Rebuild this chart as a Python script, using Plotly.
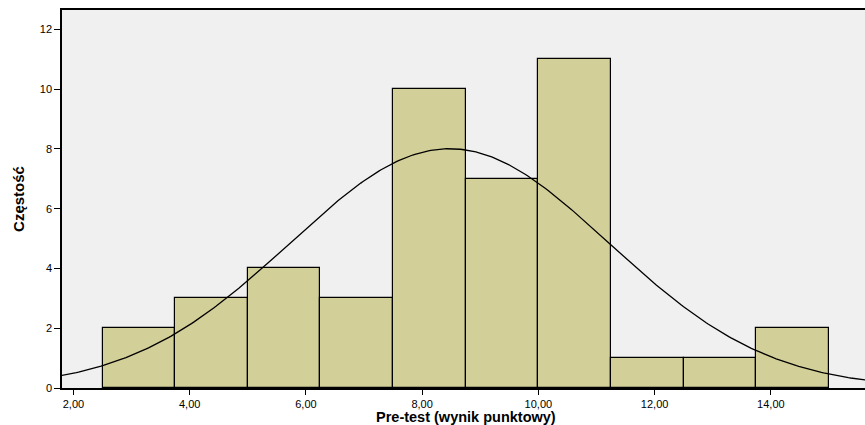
import numpy as np
import plotly.graph_objects as go

bin_starts = [2.5, 3.75, 5.0, 6.25, 7.5, 8.75, 10.0, 11.25, 12.5, 13.75]
bin_width = 1.25
counts = [2, 3, 4, 3, 10, 7, 11, 1, 1, 2]
mean_val = 8.47
sd_val = 2.74
x_ticks = [2, 4, 6, 8, 10, 12, 14]
x_tick_labels = ["2,00", "4,00", "6,00", "8,00", "10,00", "12,00", "14,00"]
y_ticks = [0, 2, 4, 6, 8, 10, 12]

n_total = sum(counts)
centers = [s + bin_width / 2 for s in bin_starts]
xc = np.linspace(1.0, 16.5, 400)
yc = n_total * bin_width / (sd_val * np.sqrt(2 * np.pi)) * np.exp(-((xc - mean_val) ** 2) / (2 * sd_val ** 2))

fig = go.Figure()
fig.add_trace(go.Bar(x=centers, y=counts, width=bin_width,
                     marker=dict(color="#D3CF98", line=dict(color="black", width=1.2)),
                     hoverinfo="skip"))
fig.add_trace(go.Scatter(x=xc, y=yc, mode="lines", line=dict(color="black", width=1.3),
                         hoverinfo="skip"))

fig.update_layout(
    width=865, height=425,
    margin=dict(l=62, r=0, t=10, b=37),
    paper_bgcolor="white", plot_bgcolor="#F0F0F0",
    showlegend=False, bargap=0,
    font=dict(family="Liberation Sans, Arial, sans-serif", color="black", size=11),
    annotations=[dict(text="<b>Pre-test (wynik punktowy)</b>", x=8.8, xref="x", y=0, yref="paper",
                      yshift=-28.5, yanchor="middle", xanchor="center", showarrow=False,
                      font=dict(size=14.5, color="black"))],
)
fig.update_xaxes(range=[1.803, 15.62], tickvals=x_ticks, ticktext=x_tick_labels,
                 showgrid=False, zeroline=False, showline=True, linecolor="black", linewidth=1.5,
                 mirror=True,
                 ticks="outside", ticklen=5, tickcolor="black")
fig.update_yaxes(range=[0, 12.65], tickvals=y_ticks,
                 showgrid=False, zeroline=False, showline=True, linecolor="black", linewidth=1.5,
                 ticks="outside", ticklen=6, tickcolor="black",
                 title=dict(text="<b>Częstość</b>", font=dict(size=15, family="Liberation Sans Narrow, Liberation Sans, Arial"), standoff=12))

# x title centred at pixel ~466 of the page -> convert to data coords
x_range = fig.layout.xaxis.range
px_per_unit = (865 - 62) / (x_range[1] - x_range[0])
fig.layout.annotations[0].x = x_range[0] + (466 - 62) / px_per_unit

fig.write_html("out.html", config={"displayModeBar": False},
               post_script="document.body.style.margin='0';document.body.style.overflow='hidden';")
